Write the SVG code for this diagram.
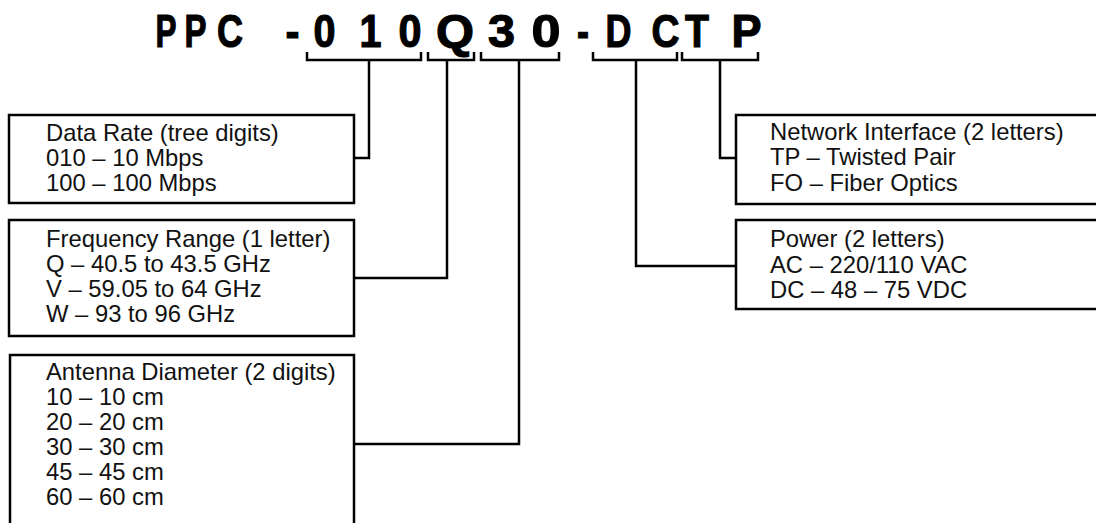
<svg xmlns="http://www.w3.org/2000/svg" width="1096" height="523" viewBox="0 0 1096 523">
<style>
.t{font-family:"Liberation Sans",Arial,sans-serif;font-size:47px;font-weight:bold;fill:#000;stroke:#000;stroke-width:1.2;text-anchor:middle}
.l{font-family:"Liberation Sans",Arial,sans-serif;font-size:23.8px;fill:#111}
.box{fill:#fff;stroke:#000;stroke-width:2.5}
.c{fill:none;stroke:#000;stroke-width:2.5;stroke-linejoin:miter}
</style>
<rect width="1096" height="523" fill="#fff"/>
<g id="title">
<text class="t" x="166" y="47" textLength="21" lengthAdjust="spacingAndGlyphs">P</text>
<text class="t" x="195.5" y="47" textLength="22" lengthAdjust="spacingAndGlyphs">P</text>
<text class="t" x="230" y="47" textLength="26" lengthAdjust="spacingAndGlyphs">C</text>
<text class="t" x="292.5" y="47" textLength="14" lengthAdjust="spacingAndGlyphs">-</text>
<text class="t" x="324.5" y="47" textLength="22" lengthAdjust="spacingAndGlyphs">0</text>
<text class="t" x="370.5" y="47" textLength="22" lengthAdjust="spacingAndGlyphs">1</text>
<text class="t" x="410" y="47" textLength="23" lengthAdjust="spacingAndGlyphs">0</text>
<text class="t" x="455" y="47" textLength="38" lengthAdjust="spacingAndGlyphs">Q</text>
<text class="t" x="501.5" y="47" textLength="27" lengthAdjust="spacingAndGlyphs">3</text>
<text class="t" x="546" y="47" textLength="29" lengthAdjust="spacingAndGlyphs">0</text>
<text class="t" x="583" y="47" textLength="12" lengthAdjust="spacingAndGlyphs">-</text>
<text class="t" x="618.5" y="47" textLength="26" lengthAdjust="spacingAndGlyphs">D</text>
<text class="t" x="665.5" y="47" textLength="28" lengthAdjust="spacingAndGlyphs">C</text>
<text class="t" x="697" y="47" textLength="24" lengthAdjust="spacingAndGlyphs">T</text>
<text class="t" x="746.5" y="47" textLength="30" lengthAdjust="spacingAndGlyphs">P</text>
</g>
<g id="connectors">
<path class="c" d="M307,52 V60 H421 V52"/>
<path class="c" d="M428,52 V60 H474 V52"/>
<path class="c" d="M481,52 V60 H559 V52"/>
<path class="c" d="M593,52 V60 H677 V52"/>
<path class="c" d="M682,52 V60 H758 V52"/>
<path class="c" d="M369,60 V158 H354"/>
<path class="c" d="M447,60 V278 H354"/>
<path class="c" d="M519,60 V444 H354"/>
<path class="c" d="M636,60 V266 H736"/>
<path class="c" d="M720,60 V158 H736"/>
</g>
<g id="data-rate">
<rect class="box" x="9" y="115" width="345" height="88"/>
<text class="l" x="46" y="141">Data Rate (tree digits)</text>
<text class="l" x="46" y="166">010 – 10 Mbps</text>
<text class="l" x="46" y="191">100 – 100 Mbps</text>
</g>
<g id="frequency">
<rect class="box" x="9" y="220" width="345" height="116"/>
<text class="l" x="46" y="247">Frequency Range (1 letter)</text>
<text class="l" x="46" y="272">Q – 40.5 to 43.5 GHz</text>
<text class="l" x="46" y="297">V – 59.05 to 64 GHz</text>
<text class="l" x="46" y="322">W – 93 to 96 GHz</text>
</g>
<g id="antenna">
<rect class="box" x="10" y="355" width="344" height="180"/>
<text class="l" x="46" y="380">Antenna Diameter (2 digits)</text>
<text class="l" x="46" y="405">10 – 10 cm</text>
<text class="l" x="46" y="430">20 – 20 cm</text>
<text class="l" x="46" y="455">30 – 30 cm</text>
<text class="l" x="46" y="480">45 – 45 cm</text>
<text class="l" x="46" y="505">60 – 60 cm</text>
</g>
<g id="network">
<rect class="box" x="736" y="115" width="370" height="89"/>
<text class="l" x="770" y="140">Network Interface (2 letters)</text>
<text class="l" x="770" y="165">TP – Twisted Pair</text>
<text class="l" x="770" y="191">FO – Fiber Optics</text>
</g>
<g id="power">
<rect class="box" x="736" y="220" width="370" height="89"/>
<text class="l" x="770" y="247">Power (2 letters)</text>
<text class="l" x="770" y="273">AC – 220/110 VAC</text>
<text class="l" x="770" y="298">DC – 48 – 75 VDC</text>
</g>
</svg>
